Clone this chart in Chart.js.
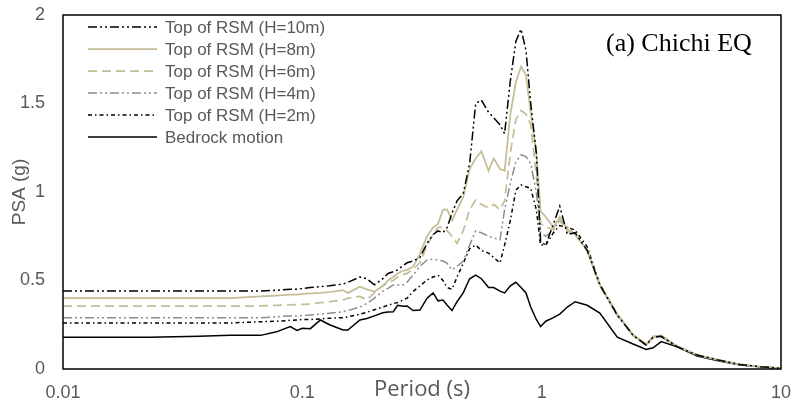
<!DOCTYPE html>
<html>
<head>
<meta charset="utf-8">
<script src="https://cdn.jsdelivr.net/npm/chart.js@4/dist/chart.umd.min.js"></script>
<style>
html,body{margin:0;padding:0;background:#fff;}
#wrap{position:relative;width:793px;height:405px;}
</style>
</head>
<body>
<div id="wrap"><canvas id="c" width="793" height="405"></canvas></div>
<script>
const periods = [0.01,0.014,0.023,0.037,0.05,0.067,0.078,0.089,0.095,0.1,0.108,0.119,0.13,0.148,0.155,0.174,0.186,0.2,0.217,0.228,0.24,0.25,0.264,0.274,0.29,0.31,0.332,0.352,0.369,0.387,0.403,0.422,0.443,0.47,0.5,0.53,0.56,0.6,0.63,0.67,0.7,0.74,0.78,0.82,0.86,0.9,0.95,0.99,1.04,1.12,1.19,1.28,1.38,1.55,1.75,2.07,2.41,2.73,2.92,3.16,3.68,4.46,5.46,6.75,8.18,10];

const seriesNames = ["Top of RSM (H=10m)","Top of RSM (H=8m)","Top of RSM (H=6m)","Top of RSM (H=4m)","Top of RSM (H=2m)","Bedrock motion"];

const h10 = [0.44,0.44,0.44,0.44,0.44,0.44,0.445,0.45,0.45,0.455,0.46,0.465,0.47,0.48,0.49,0.52,0.51,0.475,0.51,0.54,0.55,0.56,0.585,0.60,0.61,0.63,0.71,0.76,0.78,0.77,0.80,0.88,0.95,0.99,1.16,1.50,1.52,1.45,1.42,1.38,1.33,1.63,1.85,1.92,1.80,1.50,1.22,0.72,0.70,0.82,0.92,0.76,0.77,0.67,0.475,0.305,0.19,0.136,0.18,0.185,0.126,0.079,0.051,0.025,0.013,0.004];
const h8 = [0.40,0.40,0.40,0.40,0.40,0.41,0.415,0.42,0.42,0.425,0.427,0.43,0.435,0.446,0.43,0.465,0.45,0.437,0.47,0.50,0.52,0.54,0.555,0.56,0.578,0.65,0.75,0.80,0.82,0.90,0.90,0.84,0.90,0.97,1.13,1.19,1.23,1.12,1.19,1.13,1.12,1.44,1.62,1.71,1.66,1.45,1.22,0.89,0.86,0.80,0.86,0.79,0.76,0.67,0.475,0.31,0.195,0.14,0.185,0.19,0.13,0.08,0.052,0.026,0.013,0.004];
const h6 = [0.355,0.355,0.355,0.355,0.355,0.356,0.36,0.362,0.364,0.365,0.367,0.375,0.38,0.39,0.40,0.41,0.39,0.43,0.47,0.49,0.50,0.52,0.535,0.54,0.565,0.60,0.70,0.76,0.80,0.80,0.78,0.75,0.71,0.78,0.90,0.955,0.93,0.91,0.93,0.90,0.95,1.22,1.41,1.46,1.44,1.38,1.10,0.82,0.80,0.79,0.84,0.78,0.76,0.67,0.47,0.305,0.19,0.138,0.18,0.185,0.128,0.08,0.05,0.025,0.012,0.004];
const h4 = [0.29,0.29,0.29,0.29,0.29,0.29,0.295,0.30,0.30,0.302,0.305,0.31,0.315,0.324,0.33,0.35,0.37,0.40,0.44,0.456,0.475,0.475,0.475,0.49,0.53,0.58,0.616,0.62,0.616,0.61,0.597,0.56,0.58,0.61,0.70,0.78,0.77,0.75,0.74,0.73,0.90,1.05,1.17,1.21,1.20,1.16,1.00,0.77,0.75,0.785,0.84,0.80,0.76,0.67,0.475,0.30,0.19,0.135,0.178,0.182,0.125,0.078,0.05,0.024,0.012,0.004];
const h2 = [0.26,0.26,0.26,0.26,0.26,0.267,0.27,0.275,0.277,0.28,0.28,0.283,0.287,0.29,0.295,0.31,0.32,0.335,0.35,0.36,0.37,0.375,0.39,0.40,0.437,0.47,0.503,0.52,0.53,0.50,0.46,0.45,0.52,0.597,0.68,0.70,0.67,0.655,0.63,0.60,0.70,0.84,1.01,1.04,1.03,1.02,0.90,0.70,0.70,0.77,0.81,0.80,0.785,0.69,0.48,0.31,0.19,0.136,0.18,0.183,0.126,0.079,0.05,0.025,0.012,0.004];
const bedrock = [0.18,0.18,0.18,0.185,0.19,0.19,0.21,0.24,0.218,0.23,0.228,0.277,0.25,0.22,0.22,0.277,0.285,0.30,0.318,0.322,0.324,0.36,0.355,0.356,0.33,0.333,0.40,0.43,0.385,0.39,0.36,0.33,0.38,0.43,0.51,0.53,0.51,0.46,0.46,0.44,0.43,0.47,0.49,0.46,0.43,0.35,0.28,0.24,0.27,0.29,0.31,0.35,0.38,0.36,0.316,0.18,0.141,0.11,0.12,0.155,0.125,0.073,0.046,0.023,0.012,0.004];

const xTickValues = [0.01,0.1,1,10];
const xTickLabels = ["0.01","0.1","1","10"];
const yTickValues = [0,0.5,1,1.5,2];
const yTickLabels = ["0","0.5","1","1.5","2"];
const annotationText = "(a) Chichi EQ";
const xTitle = "Period (s)";
const yTitle = "PSA (g)";

const styles = [
  {color:"#000000", dash:[9,3,2,3,2,3], width:1.5},
  {color:"#c4bd97", dash:[], width:1.75},
  {color:"#c4bd97", dash:[9,5], width:1.75},
  {color:"#8c8c8c", dash:[9,3,2,3,2,3], width:1.5},
  {color:"#000000", dash:[4,3,1.5,3], width:1.5},
  {color:"#000000", dash:[], width:1.5}
];
const seriesValues = [h10,h8,h6,h4,h2,bedrock];

const datasets = seriesValues.map((vals,i)=>({
  label: seriesNames[i],
  data: periods.map((p,j)=>({x:p,y:vals[j]})),
  borderColor: styles[i].color,
  borderDash: styles[i].dash,
  borderWidth: styles[i].width,
  pointRadius: 0,
  tension: 0,
  fill: false
}));

const framePlugin = {
  id:'frame',
  afterDatasetsDraw(chart){
    const {ctx, chartArea:a} = chart;
    ctx.save();
    ctx.strokeStyle = '#000';
    ctx.lineWidth = 1.5;
    ctx.setLineDash([]);
    ctx.strokeRect(a.left, a.top, a.right-a.left, a.bottom-a.top);
    // legend
    const lx0 = 88, lx1 = 157, tx = 165, y0 = 27, dy = 22;
    ctx.font = '17px "Liberation Sans", Arial, sans-serif';
    ctx.textBaseline = 'middle';
    ctx.textAlign = 'left';
    for (let i=0;i<seriesNames.length;i++){
      const y = y0 + i*dy;
      ctx.beginPath();
      ctx.strokeStyle = styles[i].color;
      ctx.lineWidth = styles[i].width;
      ctx.setLineDash(styles[i].dash);
      ctx.moveTo(lx0,y); ctx.lineTo(lx1,y);
      ctx.stroke();
      ctx.fillStyle = '#595959';
      ctx.fillText(seriesNames[i], tx, y+1);
    }
    ctx.setLineDash([]);
    ctx.fillStyle = '#000';
    ctx.font = '26px "Liberation Serif", "Times New Roman", serif';
    ctx.textAlign = 'left';
    ctx.fillText(annotationText, 606, 44);
    ctx.restore();
  }
};

new Chart(document.getElementById('c'), {
  type:'line',
  data:{datasets},
  plugins:[framePlugin],
  options:{
    responsive:false,
    animation:false,
    devicePixelRatio:1,
    layout:{padding:{left:0,right:12,top:15,bottom:0}, autoPadding:false},
    plugins:{legend:{display:false}, tooltip:{enabled:false}},
    scales:{
      x:{
        type:'logarithmic', min:0.01, max:10,
        afterBuildTicks(s){ s.ticks = xTickValues.map(v=>({value:v})); },
        afterFit(s){ s.height = 36; s.paddingLeft = 0; s.paddingRight = 0; },
        grid:{display:false, drawTicks:false},
        border:{display:false},
        ticks:{
          autoSkip:false, maxRotation:0, padding:13,
          color:'#595959',
          font:{family:'"Liberation Sans", Arial, sans-serif', size:18},
          callback(v){ const k = xTickValues.indexOf(v); return k>=0 ? xTickLabels[k] : ''; }
        },
        title:{display:true, text:xTitle, color:'#595959',
          font:{family:'"Open Sans", sans-serif', size:22, lineHeight:1.2},
          padding:{top:0,bottom:2}}
      },
      y:{
        min:0, max:2,
        afterBuildTicks(s){ s.ticks = yTickValues.map(v=>({value:v})); },
        afterFit(s){ s.width = 63; s.paddingTop = 0; s.paddingBottom = 0; },
        grid:{display:false, drawTicks:false},
        border:{display:false},
        ticks:{
          padding:18, color:'#595959',
          font:{family:'"Liberation Sans", Arial, sans-serif', size:18},
          callback(v){ const k = yTickValues.indexOf(v); return k>=0 ? yTickLabels[k] : ''; }
        },
        title:{display:true, text:yTitle, color:'#595959',
          font:{family:'"Liberation Sans", Arial, sans-serif', size:19, lineHeight:1.2},
          padding:{top:8,bottom:0}}
      }
    }
  }
});
</script>
</body>
</html>
